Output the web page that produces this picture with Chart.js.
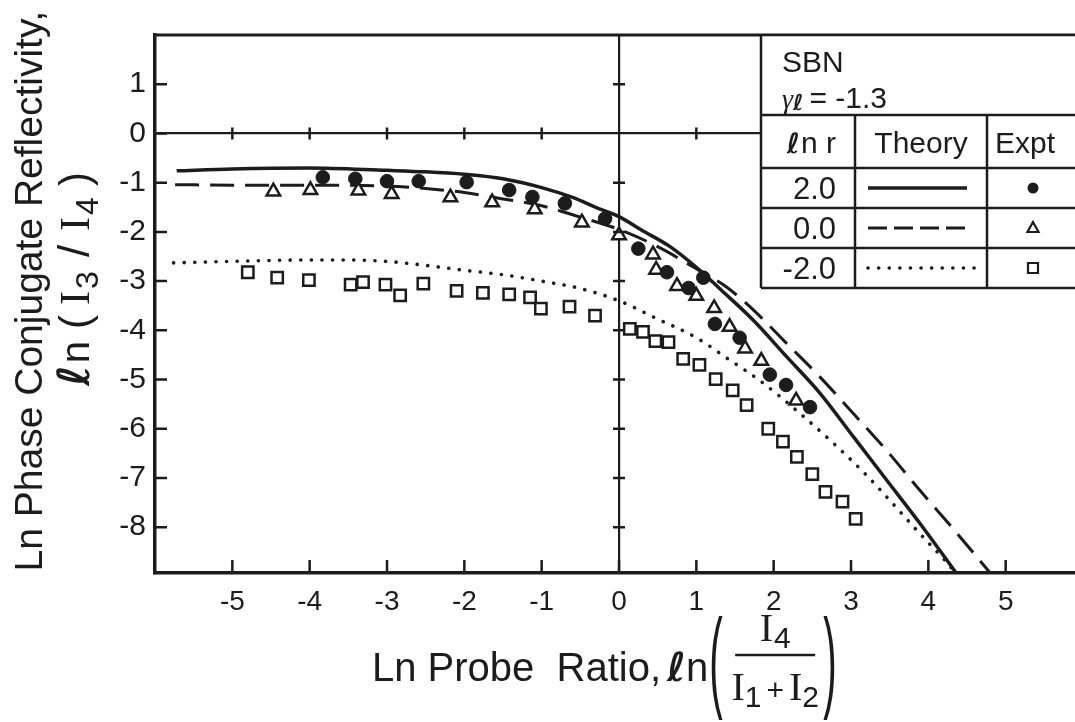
<!DOCTYPE html>
<html>
<head>
<meta charset="utf-8">
<script src="https://cdn.jsdelivr.net/npm/chart.js@4.4.0/dist/chart.umd.min.js"></script>
<style>
  html, body { margin: 0; padding: 0; background: #fff; overflow: hidden; }
</style>
</head>
<body>
<!-- the original figure is cut at its right edge, so the canvas runs a little past the window -->
<canvas id="lineChart" width="1085" height="722"></canvas>
<script>
// Theory curves, ln r = 2.0 / 0.0 / -2.0
const solidX  = [-5.72, -5, -4, -3, -2.5, -2, -1.5, -1, -0.6, -0.3, 0, 0.3, 0.66, 1, 1.3, 1.74, 2.17, 2.6, 3.03, 3.46, 3.89, 4.36]
const solidY  = [-0.76, -0.72, -0.7, -0.75, -0.78, -0.83, -0.92, -1.1, -1.3, -1.5, -1.69, -1.97, -2.3, -2.72, -3.15, -3.8, -4.54, -5.28, -6.16, -7.04, -7.92, -8.93]
const dashedX = [-5.74, -5, -4, -3, -2.5, -2, -1.5, -1, -0.5, 0, 0.5, 1, 1.39, 1.74, 2.17, 2.6, 3.03, 3.46, 3.89, 4.32, 4.8]
const dashedY = [-1.04, -1.05, -1.05, -1.07, -1.12, -1.2, -1.33, -1.47, -1.7, -1.95, -2.3, -2.75, -3.12, -3.59, -4.27, -4.95, -5.69, -6.44, -7.25, -8.03, -8.93]
const dottedX = [-5.76, -5, -4, -3.5, -3, -2.5, -2, -1.5, -1, -0.5, 0, 0.5, 1, 1.41, 1.82, 2.32, 2.77, 3.18, 3.54, 3.89, 4.23, 4.35]
const dottedY = [-2.63, -2.6, -2.57, -2.57, -2.6, -2.68, -2.78, -2.87, -3.0, -3.15, -3.4, -3.77, -4.15, -4.58, -5.02, -5.66, -6.29, -6.91, -7.52, -8.13, -8.7, -8.93]

// Experimental points
const circleX = [-3.83, -3.41, -3.0, -2.59, -1.97, -1.42, -1.12, -0.70, -0.18, 0.25, 0.62, 0.90, 1.09, 1.24, 1.56, 1.95, 2.16, 2.47]
const circleY = [-0.89, -0.92, -0.97, -0.97, -0.99, -1.15, -1.29, -1.42, -1.73, -2.34, -2.82, -3.14, -2.93, -3.87, -4.15, -4.90, -5.11, -5.56]
const triX = [-4.47, -3.99, -3.37, -2.94, -2.18, -1.64, -1.09, -0.48, 0.0, 0.44, 0.48, 0.75, 1.0, 1.23, 1.43, 1.63, 1.84, 2.29]
const triY = [-1.18, -1.15, -1.16, -1.23, -1.30, -1.40, -1.54, -1.81, -2.07, -2.46, -2.77, -3.10, -3.30, -3.55, -3.93, -4.37, -4.62, -5.43]
const squareX = [-4.80, -4.42, -4.01, -3.47, -3.31, -3.02, -2.83, -2.53, -2.10, -1.76, -1.42, -1.15, -1.01, -0.64, -0.31, 0.14, 0.31, 0.47, 0.64, 0.83, 1.04, 1.25, 1.47, 1.65, 1.93, 2.12, 2.30, 2.50, 2.67, 2.89, 3.06]
const squareY = [-2.82, -2.93, -2.98, -3.07, -3.02, -3.07, -3.29, -3.05, -3.20, -3.24, -3.27, -3.33, -3.56, -3.52, -3.70, -3.97, -4.03, -4.22, -4.24, -4.58, -4.70, -4.99, -5.22, -5.52, -6.00, -6.26, -6.57, -6.92, -7.28, -7.48, -7.83]

// legend table
const lnrLabels = ["2.0", "0.0", "-2.0"]
const gammaL = "-1.3"

const xTicks = [-5, -4, -3, -2, -1, 0, 1, 2, 3, 4, 5]
const yTicks = [1, 0, -1, -2, -3, -4, -5, -6, -7, -8]

const ink = "#1c1c1c"
const pts = (xs, ys) => xs.map((x, i) => ({ x: x, y: ys[i] }))

// draws a list of text runs one after another, returns total width
function runs(ctx, list, x, y, dryRun) {
  let cx = x
  list.forEach(r => {
    ctx.font = r.font
    if (!dryRun) ctx.fillText(r.t, cx + (r.dx || 0), y + (r.dy || 0))
    cx += ctx.measureText(r.t).width + (r.gap || 0)
  })
  return cx - x
}

// big thin parenthesis, squeezed sideways
function paren(ctx, ch, x, y) {
  ctx.save()
  ctx.translate(x, y)
  ctx.scale(0.36, 1)
  ctx.font = "112px " + sans
  ctx.fillText(ch, 0, 0)
  ctx.restore()
}

const sans = "Liberation Sans"
const ell = "bold oblique 40px DejaVu Sans"

const decorations = {
  id: "decorations",
  afterDraw(chart) {
    const ctx = chart.ctx
    const xs = chart.scales.x, ys = chart.scales.y
    const a = chart.chartArea
    ctx.save()
    ctx.strokeStyle = ink
    ctx.fillStyle = ink
    ctx.lineCap = "butt"

    // top frame
    ctx.lineWidth = 3
    ctx.beginPath(); ctx.moveTo(a.left - 1.5, a.top); ctx.lineTo(a.right + 20, a.top); ctx.stroke()

    // inward ticks on the axes and crosses on the zero lines
    ctx.lineWidth = 2.5
    ctx.beginPath()
    yTicks.forEach(v => {
      const y = ys.getPixelForValue(v)
      ctx.moveTo(a.left, y); ctx.lineTo(a.left + 12, y)
      if (v !== 0) { const x0 = xs.getPixelForValue(0); ctx.moveTo(x0 - 6, y); ctx.lineTo(x0 + 6, y) }
    })
    xTicks.forEach(v => {
      const x = xs.getPixelForValue(v)
      ctx.moveTo(x, a.bottom); ctx.lineTo(x, a.bottom - 13)
      if (v !== 0) { const y0 = ys.getPixelForValue(0); ctx.moveTo(x, y0 - 6); ctx.lineTo(x, y0 + 6) }
    })
    ctx.stroke()

    // legend table, top right corner
    const L = 761, R = a.right + 20, T = a.top
    const hLines = [115, 168, 208, 248, 288]
    const c1 = 855, c2 = 987
    ctx.fillStyle = "#fff"
    ctx.fillRect(L, T + 1.5, R - L, hLines[4] - T)
    ctx.fillStyle = ink
    ctx.lineWidth = 2.5
    ctx.beginPath()
    ctx.moveTo(L, T); ctx.lineTo(L, hLines[4])
    hLines.forEach(y => { ctx.moveTo(L, y); ctx.lineTo(R, y) })
    ctx.moveTo(c1, hLines[0]); ctx.lineTo(c1, hLines[4])
    ctx.moveTo(c2, hLines[0]); ctx.lineTo(c2, hLines[4])
    ctx.stroke()

    ctx.textBaseline = "alphabetic"
    ctx.textAlign = "left"
    ctx.font = "30px " + sans
    ctx.fillText("SBN", 782, 72)
    runs(ctx, [
      { t: "γ", font: "italic 28px Liberation Serif", gap: 0 },
      { t: "ℓ", font: "bold oblique 22px DejaVu Sans", dy: 2, gap: 6 },
      { t: "= " + gammaL, font: "30px " + sans }
    ], 782, 108)

    // header row
    const head = [{ t: "ℓ", font: "bold oblique 28px DejaVu Sans", gap: 1 }, { t: "n r", font: "30px " + sans }]
    const hw = runs(ctx, head, 0, 0, true)
    runs(ctx, head, 836 - hw, 153)
    ctx.font = "30px " + sans
    ctx.textAlign = "center"
    ctx.fillText("Theory", (c1 + c2) / 2, 153)
    ctx.fillText("Expt", 1025, 153)

    const lineSets = chart.data.datasets.slice(3)
    const markSets = chart.data.datasets.slice(0, 3)
    lnrLabels.forEach((lab, i) => {
      const cy = (hLines[i + 1] + hLines[i + 2]) / 2
      ctx.textAlign = "right"
      ctx.font = "31px " + sans
      ctx.fillStyle = ink
      ctx.fillText(lab, 836, cy + 11)
      // theory sample
      const ds = lineSets[i]
      ctx.save()
      ctx.lineWidth = ds.borderWidth
      ctx.lineCap = ds.borderCapStyle || "butt"
      ctx.setLineDash(i === 1 ? [19, 7] : (ds.borderDash || []))
      ctx.beginPath(); ctx.moveTo(868, cy); ctx.lineTo(i === 2 ? 975 : 967, cy); ctx.stroke()
      ctx.restore()
      // expt marker
      const ms = markSets[i]
      const mx = 1033
      ctx.save()
      ctx.lineWidth = 2.2
      ctx.beginPath()
      if (ms.pointStyle === "circle") ctx.arc(mx, cy, 5.5, 0, Math.PI * 2)
      else if (ms.pointStyle === "triangle") { ctx.moveTo(mx, cy - 6); ctx.lineTo(mx + 5.5, cy + 4); ctx.lineTo(mx - 5.5, cy + 4); ctx.closePath() }
      else ctx.rect(mx - 5, cy - 5, 10, 10)
      if (ms.pointStyle === "circle") ctx.fill(); else ctx.stroke()
      ctx.restore()
    })

    // y axis title (two lines, rotated)
    ctx.fillStyle = ink
    ctx.save()
    ctx.translate(42, 291)
    ctx.rotate(-Math.PI / 2)
    ctx.textAlign = "center"
    ctx.font = "39px " + sans
    ctx.fillText("Ln Phase Conjugate Reflectivity,", 0, 0)
    ctx.restore()

    const yRuns = [
      { t: "ℓ", font: "bold oblique 44px DejaVu Sans", gap: 2 },
      { t: "n", font: "40px " + sans, gap: 12 },
      { t: "(", font: "42px " + sans, gap: 10 },
      { t: "I", font: "42px Liberation Serif", gap: 2 },
      { t: "3", font: "32px " + sans, dy: 9, gap: 14 },
      { t: "/", font: "44px " + sans, gap: 14 },
      { t: "I", font: "42px Liberation Serif", gap: 2 },
      { t: "4", font: "32px " + sans, dy: 9, gap: 11 },
      { t: ")", font: "42px " + sans }
    ]
    ctx.save()
    ctx.translate(89, 279)
    ctx.rotate(-Math.PI / 2)
    ctx.textAlign = "left"
    const yw = runs(ctx, yRuns, 0, 0, true)
    runs(ctx, yRuns, -yw / 2, 0)
    ctx.restore()

    // x axis title with the fraction
    ctx.textAlign = "left"
    const xw = runs(ctx, [
      { t: "Ln Probe  Ratio,", font: "40px " + sans, gap: 6 },
      { t: "ℓ", font: ell, gap: 0 },
      { t: "n", font: "40px " + sans }
    ], 372, 681)
    const px = 372 + xw + 1
    paren(ctx, "(", px, 697)
    paren(ctx, ")", px + 114, 697)
    const fx = px + 66
    const num = [{ t: "I", font: "40px Liberation Serif", gap: 1 }, { t: "4", font: "30px " + sans, dy: 7 }]
    const den = [
      { t: "I", font: "40px Liberation Serif", gap: 0 },
      { t: "1", font: "30px " + sans, dy: 7, gap: 5 },
      { t: "+", font: "30px " + sans, gap: 5 },
      { t: "I", font: "40px Liberation Serif", gap: 0 },
      { t: "2", font: "30px " + sans, dy: 7 }
    ]
    const nw = runs(ctx, num, 0, 0, true)
    runs(ctx, num, fx - nw / 2, 641)
    const dw = runs(ctx, den, 0, 0, true)
    runs(ctx, den, fx - dw / 2, 700)
    ctx.lineWidth = 2.5
    ctx.beginPath(); ctx.moveTo(fx - 40, 655); ctx.lineTo(fx + 40, 655); ctx.stroke()

    ctx.restore()
  }
}

const ctx = document.getElementById("lineChart").getContext("2d")
const lineChart = new Chart(ctx, {
  type: "scatter",
  data: {
    datasets: [
      { label: "Expt 2.0", data: pts(circleX, circleY), pointStyle: "circle", pointRadius: 6.8,
        backgroundColor: ink, borderColor: ink, borderWidth: 1 },
      { label: "Expt 0.0", data: pts(triX, triY), pointStyle: "triangle", pointRadius: 7.8,
        backgroundColor: "#fff", borderColor: ink, borderWidth: 2.5 },
      { label: "Expt -2.0", data: pts(squareX, squareY), pointStyle: "rect", pointRadius: 8,
        backgroundColor: "#fff", borderColor: ink, borderWidth: 2.5 },
      { label: "Theory 2.0", data: pts(solidX, solidY), showLine: true, pointRadius: 0,
        borderColor: ink, borderWidth: 3.5, cubicInterpolationMode: "monotone" },
      { label: "Theory 0.0", data: pts(dashedX, dashedY), showLine: true, pointRadius: 0,
        borderColor: ink, borderWidth: 3, borderDash: [24, 11], cubicInterpolationMode: "monotone" },
      { label: "Theory -2.0", data: pts(dottedX, dottedY), showLine: true, pointRadius: 0,
        borderColor: ink, borderWidth: 3.6, borderDash: [0.1, 10.5], borderCapStyle: "round",
        cubicInterpolationMode: "monotone" }
    ]
  },
  options: {
    responsive: false,
    animation: false,
    events: [],
    layout: { padding: { top: 35, right: 0, bottom: 0, left: 0 } },
    plugins: { legend: { display: false }, tooltip: { enabled: false } },
    scales: {
      x: {
        type: "linear", min: -6, max: 5.89,
        afterFit: s => { s.height = 149 },
        grid: { drawTicks: false, lineWidth: 2.2, color: c => (c.tick && c.tick.value === 0) ? ink : "rgba(0,0,0,0)" },
        border: { display: true, color: ink, width: 3.5 },
        ticks: {
          stepSize: 1, includeBounds: false, padding: 12, color: ink,
          font: { family: sans, size: 28 },
          callback: v => xTicks.includes(v) ? String(v) : ""
        }
      },
      y: {
        type: "linear", min: -8.93, max: 2,
        afterFit: s => { s.width = 155 },
        grid: { drawTicks: false, lineWidth: 2.2, color: c => (c.tick && c.tick.value === 0) ? ink : "rgba(0,0,0,0)" },
        border: { display: true, color: ink, width: 3.5 },
        ticks: {
          stepSize: 1, includeBounds: false, padding: 9, color: ink,
          font: { family: sans, size: 30 },
          callback: v => yTicks.includes(v) ? String(v) : ""
        }
      }
    }
  },
  plugins: [decorations]
})
</script>
</body>
</html>
